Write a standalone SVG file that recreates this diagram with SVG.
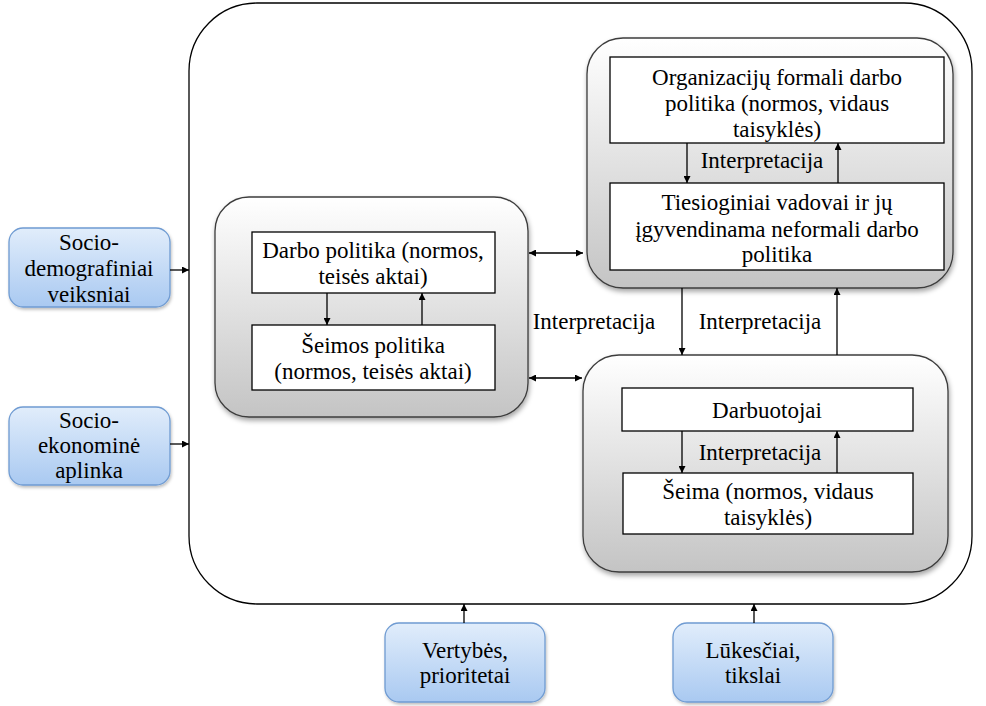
<svg xmlns="http://www.w3.org/2000/svg" width="986" height="706" viewBox="0 0 986 706">
<style>
.outer{fill:#fff;stroke:#000;stroke-width:1.3}
.grey{fill:url(#gg);stroke:#3c3c3c;stroke-width:1.3;filter:url(#sh)}
.blue{fill:url(#bg);stroke:#6f9bd2;stroke-width:1.3;filter:url(#sh2)}
.white{fill:#fff;stroke:#000;stroke-width:1.3}
.ln{stroke:#000;stroke-width:1.3;fill:none}
</style>
<defs>
<linearGradient id="gg" x1="0" y1="0" x2="0" y2="1"><stop offset="0" stop-color="#ffffff"/><stop offset="1" stop-color="#c4c4c4"/></linearGradient>
<linearGradient id="bg" x1="0" y1="0" x2="0" y2="1"><stop offset="0" stop-color="#e1edfb"/><stop offset="1" stop-color="#a9c9f1"/></linearGradient>
<filter id="sh" x="-10%" y="-10%" width="125%" height="125%"><feDropShadow dx="1" dy="3" stdDeviation="2.5" flood-color="#000" flood-opacity="0.35"/></filter>
<filter id="sh2" x="-10%" y="-10%" width="125%" height="125%"><feDropShadow dx="1" dy="2" stdDeviation="1.5" flood-color="#000" flood-opacity="0.25"/></filter>
<marker id="ah" viewBox="0 0 10 10" refX="10" refY="5" markerWidth="7" markerHeight="7" markerUnits="userSpaceOnUse" orient="auto-start-reverse"><path d="M0,0 L10,5 L0,10 Z" fill="#000"/></marker>
</defs>
<g id="outer"><rect class="outer" x="189" y="3" width="783" height="601" rx="68"/></g>
<g id="socio-demo"><rect class="blue" x="9" y="228" width="161" height="79" rx="14"/><text font-family="Liberation Serif" font-size="23" text-anchor="middle" x="89" y="250">Socio-</text><text font-family="Liberation Serif" font-size="23" text-anchor="middle" x="89" y="276">demografiniai</text><text font-family="Liberation Serif" font-size="23" text-anchor="middle" x="89" y="302">veiksniai</text></g>
<g id="socio-eko"><rect class="blue" x="9" y="407" width="161" height="78" rx="14"/><text font-family="Liberation Serif" font-size="23" text-anchor="middle" x="89" y="428">Socio-</text><text font-family="Liberation Serif" font-size="23" text-anchor="middle" x="89" y="453">ekonominė</text><text font-family="Liberation Serif" font-size="23" text-anchor="middle" x="89" y="478">aplinka</text></g>
<g id="vertybes"><rect class="blue" x="385" y="623" width="160" height="79" rx="14"/><text font-family="Liberation Serif" font-size="23" text-anchor="middle" x="465" y="658">Vertybės,</text><text font-family="Liberation Serif" font-size="23" text-anchor="middle" x="465" y="683">prioritetai</text></g>
<g id="lukesciai"><rect class="blue" x="673" y="623" width="160" height="79" rx="14"/><text font-family="Liberation Serif" font-size="23" text-anchor="middle" x="753" y="658">Lūkesčiai,</text><text font-family="Liberation Serif" font-size="23" text-anchor="middle" x="753" y="683">tikslai</text></g>
<g id="left-group"><rect class="grey" x="215" y="197" width="313" height="220" rx="34"/></g>
<g id="darbo-politika"><rect class="white" x="252" y="232" width="243" height="61"/><text font-family="Liberation Serif" font-size="23" text-anchor="middle" x="373" y="258">Darbo politika (normos,</text><text font-family="Liberation Serif" font-size="23" text-anchor="middle" x="373" y="284">teisės aktai)</text></g>
<g id="seimos-politika"><rect class="white" x="252" y="325" width="243" height="65"/><text font-family="Liberation Serif" font-size="23" text-anchor="middle" x="373" y="353">Šeimos politika</text><text font-family="Liberation Serif" font-size="23" text-anchor="middle" x="373" y="379">(normos, teisės aktai)</text></g>
<g id="org-group"><rect class="grey" x="587" y="38" width="366" height="250" rx="36"/></g>
<g id="org-formali"><rect class="white" x="610" y="57" width="334" height="86"/><text font-family="Liberation Serif" font-size="23" text-anchor="middle" x="777" y="85">Organizacijų formali darbo</text><text font-family="Liberation Serif" font-size="23" text-anchor="middle" x="777" y="111">politika (normos, vidaus</text><text font-family="Liberation Serif" font-size="23" text-anchor="middle" x="777" y="137">taisyklės)</text></g>
<g id="vadovai"><rect class="white" x="610" y="183" width="334" height="87"/><text font-family="Liberation Serif" font-size="23" text-anchor="middle" x="777" y="210">Tiesioginiai vadovai ir jų</text><text font-family="Liberation Serif" font-size="23" text-anchor="middle" x="777" y="237">įgyvendinama neformali darbo</text><text font-family="Liberation Serif" font-size="23" text-anchor="middle" x="777" y="262">politika</text></g>
<g id="emp-group"><rect class="grey" x="583" y="355" width="365" height="217" rx="36"/></g>
<g id="darbuotojai"><rect class="white" x="622" y="388" width="291" height="43"/><text font-family="Liberation Serif" font-size="23" text-anchor="middle" x="767" y="418">Darbuotojai</text></g>
<g id="seima"><rect class="white" x="623" y="473" width="290" height="61"/><text font-family="Liberation Serif" font-size="23" text-anchor="middle" x="768" y="499">Šeima (normos, vidaus</text><text font-family="Liberation Serif" font-size="23" text-anchor="middle" x="768" y="525">taisyklės)</text></g>
<g id="connectors">
<line class="ln" x1="170" y1="270" x2="189" y2="270" marker-end="url(#ah)"/>
<line class="ln" x1="170" y1="444" x2="189" y2="444" marker-end="url(#ah)"/>
<line class="ln" x1="464" y1="623" x2="464" y2="604" marker-end="url(#ah)"/>
<line class="ln" x1="754" y1="623" x2="754" y2="604" marker-end="url(#ah)"/>
<line class="ln" x1="327" y1="293" x2="327" y2="325" marker-end="url(#ah)"/>
<line class="ln" x1="422" y1="325" x2="422" y2="293" marker-end="url(#ah)"/>
<line class="ln" x1="529" y1="253" x2="583" y2="253" marker-start="url(#ah)" marker-end="url(#ah)"/>
<line class="ln" x1="529" y1="378" x2="582" y2="378" marker-start="url(#ah)" marker-end="url(#ah)"/>
<line class="ln" x1="687" y1="143" x2="687" y2="183" marker-end="url(#ah)"/>
<line class="ln" x1="838" y1="183" x2="838" y2="143" marker-end="url(#ah)"/>
<line class="ln" x1="682" y1="288" x2="682" y2="355" marker-end="url(#ah)"/>
<line class="ln" x1="837" y1="355" x2="837" y2="288" marker-end="url(#ah)"/>
<line class="ln" x1="682" y1="431" x2="682" y2="473" marker-end="url(#ah)"/>
<line class="ln" x1="837" y1="473" x2="837" y2="431" marker-end="url(#ah)"/>
<text font-family="Liberation Serif" font-size="23" text-anchor="middle" x="762" y="168">Interpretacija</text>
<text font-family="Liberation Serif" font-size="23" text-anchor="middle" x="594" y="329">Interpretacija</text>
<text font-family="Liberation Serif" font-size="23" text-anchor="middle" x="760" y="329">Interpretacija</text>
<text font-family="Liberation Serif" font-size="23" text-anchor="middle" x="760" y="460">Interpretacija</text>
</g>
</svg>
